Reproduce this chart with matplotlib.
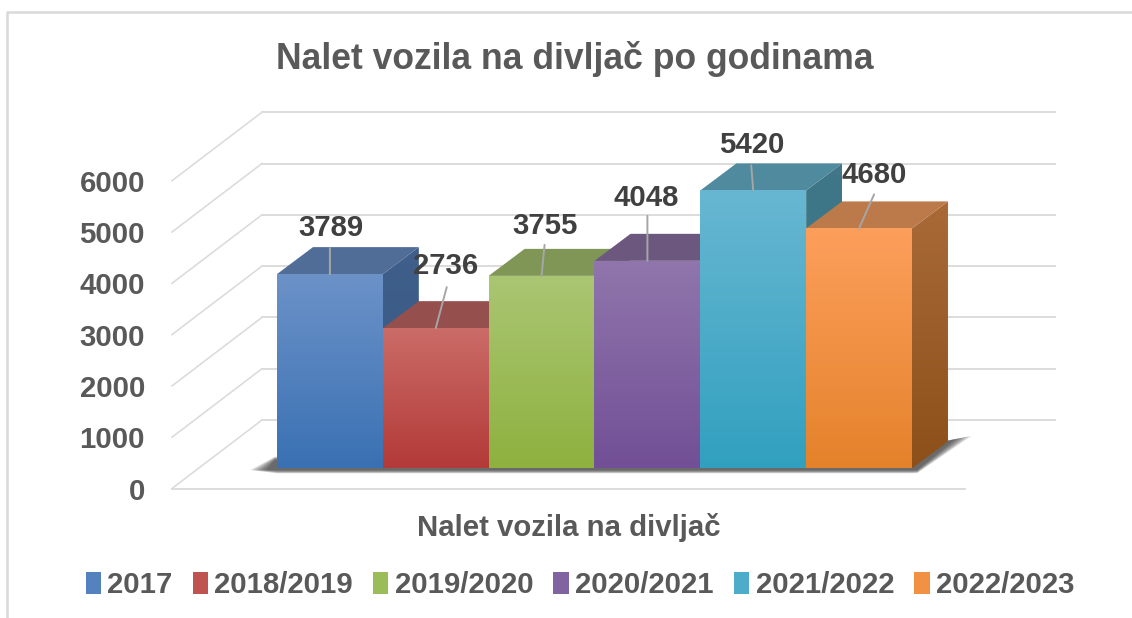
#!/usr/bin/env python3
"""Pseudo-3D column chart: wildlife collisions per season."""
import numpy as np
import matplotlib
matplotlib.use("Agg")
import matplotlib.pyplot as plt
from matplotlib.colors import LinearSegmentedColormap, to_rgb
from matplotlib.patches import Patch, Polygon

seasons = ["2017", "2018/2019", "2019/2020", "2020/2021", "2021/2022", "2022/2023"]
values = [3789, 2736, 3755, 4048, 5420, 4680]
y_ticks = [0, 1000, 2000, 3000, 4000, 5000, 6000]

title = "Nalet vozila na divljač po godinama"
x_label = "Nalet vozila na divljač"

# (top of gradient, bottom of gradient)
front_colors = [("#6c92c8", "#3a71b3"), ("#ca6c68", "#b33a38"), ("#aac673", "#8eb13f"),
                ("#9076ac", "#724f96"), ("#68b7d2", "#31a0bf"), ("#fd9f5c", "#e4822b")]
side_colors = [("#405f8a", "#335a85"), ("#8a4543", "#7a3331"), ("#7a9350", "#6a8535"),
               ("#614e78", "#533a70"), ("#417787", "#28748c"), ("#a96a38", "#8d501a")]
top_colors = ["#4f6d96", "#954f4c", "#7f9656", "#6c587f", "#4f8a9e", "#bc7a4b"]

# label offsets from the bar's top-centre, pixels (label centre, leader start)
label_offsets = [(1, 49), (10, 65), (3, 53), (-1, 66), (-1, 48), (15, 56)]
leader_offsets = [(0, 26), (11, 41), (3, 31), (0, 45), (-2, 25), (15, 34)]

# scale of the front plane in pixels
FIG_W, FIG_H = 1132, 618
BAR_LEFT_PX = 277.0
BAR_W_PX = 105.83
BASE_PX = 468.5
PX_PER_UNIT = 0.0513

# 3D offsets in data units
DEPTH_X = 36 / BAR_W_PX
DEPTH_Y = 27 / PX_PER_UNIT
WALL_X = -15 / BAR_W_PX
WALL_Y = 48.5 / PX_PER_UNIT
FLOOR_X = -105 / BAR_W_PX
FLOOR_Y = -20 / PX_PER_UNIT
GRID_RIGHT = (1055 - BAR_LEFT_PX) / BAR_W_PX
FLOOR_RIGHT = (965 - BAR_LEFT_PX) / BAR_W_PX

GRID = "#dcdcdc"
TEXT = "#595959"
LABEL = "#404040"
FONT = "Liberation Sans"
SIZE = 21.2

fig = plt.figure(figsize=(FIG_W / 100, FIG_H / 100), dpi=100)
ax = fig.add_axes([0, 0, 1, 1])
ax.axis("off")
xlim = (-BAR_LEFT_PX / BAR_W_PX, (FIG_W - BAR_LEFT_PX) / BAR_W_PX)
ylim = ((BASE_PX - FIG_H) / PX_PER_UNIT, BASE_PX / PX_PER_UNIT)


def gradient_poly(points, colors, zorder):
    """Fill a polygon with a vertical two-colour gradient."""
    pts = np.array(points)
    cmap = LinearSegmentedColormap.from_list("g", [colors[1], colors[0]])
    img = ax.imshow(np.linspace(0, 1, 128).reshape(-1, 1), cmap=cmap, origin="lower", aspect="auto",
                    extent=(pts[:, 0].min(), pts[:, 0].max(), pts[:, 1].min(), pts[:, 1].max()),
                    interpolation="bilinear", zorder=zorder)
    clip = Polygon(points, closed=True, transform=ax.transData, facecolor="none", edgecolor="none")
    ax.add_patch(clip)
    img.set_clip_path(clip)


# back wall and left wall gridlines, floor front edge
for t in y_ticks:
    ax.plot([WALL_X, GRID_RIGHT], [t + WALL_Y, t + WALL_Y], color=GRID, lw=1.4, zorder=1)
    ax.plot([FLOOR_X, WALL_X], [t + FLOOR_Y, t + WALL_Y], color=GRID, lw=1.2, zorder=1)
    ax.text(FLOOR_X - 27 / BAR_W_PX, t + FLOOR_Y, str(t), ha="right", va="center_baseline",
            family=FONT, weight="bold", fontsize=SIZE, color=TEXT)
ax.plot([FLOOR_X, FLOOR_RIGHT], [FLOOR_Y, FLOOR_Y], color=GRID, lw=1.4, zorder=1)

# soft shadow on the floor, largest and faintest first
n = len(values)
for grow in np.linspace(1, 0, 7):
    gx = grow * 16 / BAR_W_PX
    gy = grow * 3 / PX_PER_UNIT
    shadow = [(-0.1 - gx, -30), (-0.02, 170 + gy), (n, 400), (n + DEPTH_X + 0.07 + gx, DEPTH_Y + 50 + gy),
              (n + 0.05, -30 - gy), (n, -35 - gy), (0, -35 - gy)]
    ax.add_patch(Polygon(shadow, closed=True, facecolor="#303030", edgecolor="none", alpha=0.16, zorder=2))

# columns, left to right so that each one covers its neighbour's side
for i, (v, fc, sc, tc) in enumerate(zip(values, front_colors, side_colors, top_colors)):
    z = 3 + i * 0.1
    x0, x1 = i, i + 1
    top = [(x0, v), (x1, v), (x1 + DEPTH_X, v + DEPTH_Y), (x0 + DEPTH_X, v + DEPTH_Y)]
    side = [(x1, 0), (x1 + DEPTH_X, DEPTH_Y), (x1 + DEPTH_X, v + DEPTH_Y), (x1, v)]
    front = [(x0, 0), (x1, 0), (x1, v), (x0, v)]
    gradient_poly(side, sc, z)
    ax.add_patch(Polygon(top, closed=True, facecolor=tc, edgecolor="none", zorder=z + 0.01))
    gradient_poly(front, fc, z + 0.02)

# data labels with grey leader lines
for i, v in enumerate(values):
    xy = (i + 0.5, v)
    ax.annotate("", xy=xy, xytext=leader_offsets[i], textcoords="offset pixels",
                arrowprops=dict(arrowstyle="-", color="#a6a6a6", lw=1.4, shrinkA=0, shrinkB=0), zorder=6)
    ax.annotate(str(v), xy=xy, xytext=label_offsets[i], textcoords="offset pixels", ha="center",
                va="center_baseline", family=FONT, weight="bold", fontsize=SIZE, color=LABEL, zorder=7)

ax.set_xlim(xlim)
ax.set_ylim(ylim)

# chart frame: top and left edges only
fig.add_artist(plt.Line2D([7 / FIG_W, 7 / FIG_W, 1], [0, 1 - 12 / FIG_H, 1 - 12 / FIG_H], color="#d9d9d9", lw=1.8))

fig.text(575 / FIG_W, 1 - 55 / FIG_H, title, ha="center", va="center_baseline", family=FONT,
         weight="bold", fontsize=25.6, color=TEXT)
fig.text(569 / FIG_W, 1 - 524 / FIG_H, x_label, ha="center", va="center_baseline", family=FONT,
         weight="bold", fontsize=SIZE, color=TEXT)

handles = [Patch(facecolor=tuple((a + b) / 2 for a, b in zip(to_rgb(fc[0]), to_rgb(fc[1]))),
                 edgecolor="none", label=s) for s, fc in zip(seasons, front_colors)]
fig.legend(handles=handles, loc="center", bbox_to_anchor=(580 / FIG_W, 1 - 585 / FIG_H), ncol=6, frameon=False,
           prop=dict(family=FONT, weight="bold", size=SIZE), labelcolor=TEXT, handlelength=0.52, handleheight=0.75,
           handletextpad=0.22, columnspacing=0.68, borderpad=0, borderaxespad=0)

fig.savefig("out.png", dpi=100)
